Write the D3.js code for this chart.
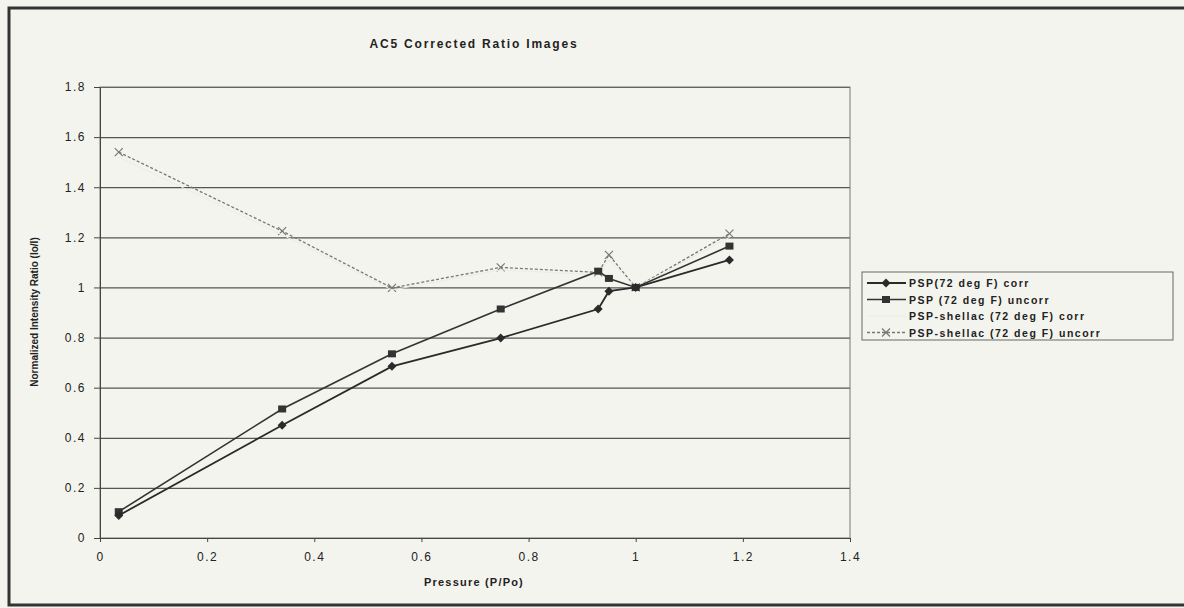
<!DOCTYPE html>
<html>
<head>
<meta charset="utf-8">
<script src="https://cdn.jsdelivr.net/npm/d3@7"></script>
<style>
body { margin: 0; background: #f4f4ee; }
text { font-family: "Liberation Sans", Arial, sans-serif; fill: #222; }
</style>
</head>
<body>
<div id="chart"></div>
<script>
// pressure values (P/Po), shared by every series
var pressure = [0.035, 0.34, 0.545, 0.748, 0.93, 0.95, 1.0, 1.175];
var pspCorr = [0.09, 0.45, 0.685, 0.798, 0.914, 0.985, 1.0, 1.11];
var pspUncorr = [0.105, 0.515, 0.735, 0.914, 1.065, 1.036, 1.0, 1.165];
var shellacCorr = [1.52, 1.21, 0.99, 1.07, 1.05, 1.11, 1.0, 1.2];
var shellacUncorr = [1.54, 1.225, 0.998, 1.08, 1.06, 1.13, 1.0, 1.215];
var xTicks = [0, 0.2, 0.4, 0.6, 0.8, 1, 1.2, 1.4];
var yTicks = [0, 0.2, 0.4, 0.6, 0.8, 1, 1.2, 1.4, 1.6, 1.8];
var legendNames = ["PSP(72 deg F) corr", "PSP (72 deg F) uncorr",
                   "PSP-shellac (72 deg F) corr", "PSP-shellac (72 deg F) uncorr"];

const W = 1184, H = 608;
var margin = { top: 87, left: 100 },
    width = 750, height = 451;

var svg = d3.select("#chart").append("svg")
    .attr("width", W).attr("height", H);

// outer frame of the chart
svg.append("rect")
    .attr("x", 9).attr("y", 8).attr("width", 1180).attr("height", 597)
    .attr("fill", "#f4f4ee").attr("stroke", "#333").attr("stroke-width", 3);

svg.append("text")
    .attr("x", 474).attr("y", 48)
    .attr("text-anchor", "middle")
    .style("font-size", "12px").style("font-weight", "bold")
    .style("letter-spacing", "1.8px")
    .text("AC5 Corrected Ratio Images");

var x = d3.scaleLinear().domain([0, 1.4]).range([0, width]);
var y = d3.scaleLinear().domain([0, 1.8]).range([height, 0]);

var g = svg.append("g")
    .attr("transform", "translate(" + margin.left + "," + margin.top + ")");

// gridlines
g.append("g")
    .attr("class", "grid-y")
    .call(d3.axisLeft(y).tickValues(yTicks).tickSize(-width).tickFormat(""))
    .call(s => s.select(".domain").remove())
    .selectAll("line").attr("stroke", "#555").attr("stroke-width", 1.2);

g.append("rect")
    .attr("width", width).attr("height", height)
    .attr("fill", "none").attr("stroke", "#777").attr("stroke-width", 1);

// axes
var xAxis = g.append("g")
    .attr("transform", "translate(0," + height + ")")
    .call(d3.axisBottom(x).tickValues(xTicks).tickSize(4).tickSizeOuter(0)
        .tickFormat(d3.format("~g")).tickPadding(10));
var yAxis = g.append("g")
    .call(d3.axisLeft(y).tickValues(yTicks).tickSize(6).tickSizeOuter(0)
        .tickFormat(d3.format("~g")).tickPadding(8));
[xAxis, yAxis].forEach(a => {
    a.selectAll(".domain").attr("stroke", "#444");
    a.selectAll("line").attr("stroke", "#444");
    a.selectAll("text").style("font-size", "12px").style("letter-spacing", "1.5px")
        .attr("fill", "#222");
});

svg.append("text")
    .attr("x", 474).attr("y", 586).attr("text-anchor", "middle")
    .style("font-size", "11px").style("font-weight", "bold").style("letter-spacing", "1.2px")
    .text("Pressure (P/Po)");

svg.append("text")
    .attr("transform", "translate(38,312) rotate(-90)")
    .attr("text-anchor", "middle")
    .style("font-size", "10px").style("font-weight", "bold")
    .text("Normalized Intensity Ratio (Io/I)");

var series = [
    { name: legendNames[0], values: pspCorr, color: "#2a2a2a", width: 1.8, dash: null, marker: "diamond" },
    { name: legendNames[1], values: pspUncorr, color: "#333", width: 1.6, dash: null, marker: "square" },
    { name: legendNames[2], values: shellacCorr, color: "#ecece4", width: 1, dash: null, marker: "none" },
    { name: legendNames[3], values: shellacUncorr, color: "#777", width: 1.3, dash: "3,2", marker: "cross" }
];

var line = d3.line()
    .x((d, i) => x(pressure[i]))
    .y(d => y(d));

function drawMarker(sel, type, color) {
    if (type === "diamond") {
        sel.append("path").attr("d", "M0,-4.5L4.5,0L0,4.5L-4.5,0Z")
            .attr("fill", color);
    } else if (type === "square") {
        sel.append("rect").attr("x", -4).attr("y", -3.5).attr("width", 8).attr("height", 7)
            .attr("fill", color);
    } else if (type === "cross") {
        sel.append("path").attr("d", "M-4,-4L4,4M-4,4L4,-4")
            .attr("stroke", color).attr("stroke-width", 1.2);
    }
}

// draw back to front so the dark series sit on top
series.slice().reverse().forEach(s => {
    g.append("path")
        .datum(s.values)
        .attr("d", line)
        .attr("fill", "none")
        .attr("stroke", s.color)
        .attr("stroke-width", s.width)
        .attr("stroke-dasharray", s.dash);
    g.selectAll(null)
        .data(s.values)
        .enter()
        .append("g")
        .attr("transform", (d, i) => "translate(" + x(pressure[i]) + "," + y(d) + ")")
        .each(function () { drawMarker(d3.select(this), s.marker, s.color); });
});

// legend
var legend = svg.append("g").attr("transform", "translate(862,272)");
legend.append("rect")
    .attr("width", 311).attr("height", 68)
    .attr("fill", "#f4f4ee").attr("stroke", "#666").attr("stroke-width", 1);
series.forEach((s, i) => {
    var row = legend.append("g").attr("transform", "translate(0," + (11 + i * 16.5) + ")");
    row.append("line").attr("x1", 5).attr("x2", 44)
        .attr("stroke", s.color).attr("stroke-width", s.width)
        .attr("stroke-dasharray", s.dash);
    var m = row.append("g").attr("transform", "translate(24,0)");
    drawMarker(m, s.marker, s.color);
    row.append("text").attr("x", 47).attr("y", 4)
        .style("font-size", "10.5px").style("font-weight", "bold")
        .style("letter-spacing", "1.5px")
        .text(s.name);
});
</script>
</body>
</html>
